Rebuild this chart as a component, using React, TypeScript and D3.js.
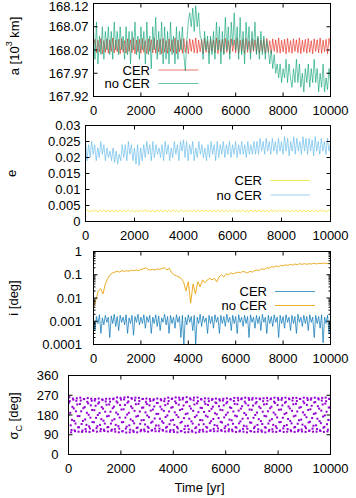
import React from "react";
import * as d3 from "d3";

// ---------- data ----------
const X_TICKS = [0, 2000, 4000, 6000, 8000, 10000];
const A_TICKS = [167.92, 167.97, 168.02, 168.07, 168.12];
const E_TICKS = [0, 0.005, 0.01, 0.015, 0.02, 0.025, 0.03];
const I_TICKS = [0.0001, 0.001, 0.01, 0.1, 1];
const S_TICKS = [0, 90, 180, 270, 360];

// semi-major axis [10^3 km], CER
const A_CER = [
  168.030,168.043,168.014,168.041,168.016,168.045,168.012,168.040,168.015,168.044,168.013,168.042,168.017,168.046,168.014,168.041,
  168.016,168.043,168.012,168.045,168.015,168.040,168.013,168.044,168.017,168.042,168.014,168.046,168.012,168.041,168.016,168.043,
  168.013,168.045,168.015,168.040,168.012,168.044,168.017,168.042,168.014,168.046,168.013,168.041,168.016,168.043,168.012,168.045,
  168.015,168.040,168.013,168.044,168.017,168.042,168.014,168.046,168.012,168.041,168.016,168.043,168.013,168.045,168.015,168.040,
  168.012,168.044,168.017,168.042,168.014,168.046,168.013,168.041,168.016,168.043,168.012,168.045,168.015,168.040,168.013,168.044,
  168.017,168.042,168.014,168.046,168.012,168.041,168.016,168.043,168.013,168.045,168.015,168.040,168.012,168.044,168.017,168.042,
  168.014,168.046,168.013,168.041,168.016,168.043,168.012,168.045,168.015,168.040,168.013,168.044,168.017,168.042,168.014,168.046,
  168.012,168.041,168.016,168.043,168.013,168.045,168.015,168.040,168.012,168.044,168.017,168.042,168.014,168.046,168.013,168.041,
  168.016,168.043,168.012,168.045,168.015,168.040,168.013,168.044,168.017,168.042,168.014,168.046,168.012,168.041,168.016,168.043,
  168.013,168.045,168.015,168.040,168.012,168.044,168.017,168.042,168.014,168.046,168.013,168.041,168.016,168.043,168.012,168.045,
  168.028,
];

// semi-major axis, no CER
const A_NOCER = [
  168.06,168.00,168.08,167.99,168.05,168.01,168.07,168.00,168.06,
  168.02,168.07,168.01,168.06,168.00,168.08,168.02,168.06,
  168.01,168.07,168.02,168.05,168.00,168.07,168.01,168.06,167.99,168.06,168.02,168.08,168.01,168.05,168.00,168.07,
  168.02,168.06,167.99,168.08,168.01,168.05,167.98,168.07,168.02,168.09,168.00,168.06,168.01,168.08,167.99,168.07,
  168.00,168.06,167.99,168.08,168.01,168.05,167.99,168.07,168.00,168.06,168.02,168.07,168.01,167.975,168.04,168.08,
  168.10,168.07,168.11,168.06,168.115,168.07,168.10,168.05,
  168.04,168.00,168.06,168.02,168.05,167.99,168.05,168.01,
  168.06,168.00,168.08,168.02,168.07,167.99,168.06,168.01,168.09,168.02,168.07,168.00,168.08,168.03,168.10,168.02,
  168.07,168.00,168.09,168.01,168.06,167.99,168.08,168.02,168.07,168.00,168.06,168.02,168.08,168.01,168.05,168.00,
  168.06,168.01,168.05,168.00,168.04,168.02,
  167.99,168.02,167.98,168.01,167.97,167.99,167.96,167.99,167.95,167.98,
  167.96,168.00,167.95,167.99,167.96,167.94,167.98,167.95,168.00,167.95,167.99,167.94,167.97,167.93,167.98,167.95,
  167.99,167.94,167.98,167.95,168.00,167.95,167.98,167.93,167.97,167.94,167.99,167.93,167.96,167.935,167.98,167.95,
];

// eccentricity, CER
const E_CER = [
  0.0033,0.0036,0.0030,0.0035,0.0031,0.0036,0.0030,0.0035,0.0031,0.0037,0.0030,0.0035,
  0.0031,0.0036,0.0029,0.0035,0.0031,0.0036,0.0030,0.0035,0.0031,0.0036,0.0030,0.0036,
  0.0030,0.0035,0.0031,0.0036,0.0030,0.0037,0.0031,0.0035,0.0030,0.0036,0.0029,0.0035,
  0.0031,0.0036,0.0030,0.0035,0.0031,0.0036,0.0030,0.0037,0.0031,0.0035,0.0030,0.0036,
  0.0030,0.0035,0.0031,0.0036,0.0029,0.0035,0.0031,0.0036,0.0030,0.0035,0.0031,0.0036,
  0.0031,0.0036,0.0030,0.0035,0.0031,0.0037,0.0030,0.0035,0.0031,0.0036,0.0030,0.0035,
  0.0030,0.0036,0.0031,0.0035,0.0030,0.0036,0.0031,0.0035,0.0029,0.0036,0.0031,0.0035,
  0.0031,0.0035,0.0030,0.0036,0.0031,0.0035,0.0030,0.0037,0.0031,0.0035,0.0030,0.0036,
  0.0030,0.0036,0.0031,0.0035,0.0030,0.0036,0.0031,0.0035,0.0030,0.0036,0.0031,0.0035,
  0.0031,0.0035,0.0030,0.0036,0.0031,0.0035,0.0030,0.0036,0.0031,0.0035,0.0030,0.0036,
  0.0033,
];

// eccentricity, no CER
const E_NOCER = [
  0.025,0.019,0.024,0.020,0.025,0.021,0.024,0.019,0.023,0.020,0.025,0.021,0.024,0.019,0.023,0.020,0.022,
  0.019,0.023,0.0185,0.022,0.018,0.021,0.019,0.024,0.020,0.024,0.019,0.025,0.021,0.024,0.019,0.023,
  0.018,0.024,0.0175,0.023,0.019,0.024,0.020,0.025,0.021,0.024,0.019,0.025,0.020,0.024,0.021,0.023,
  0.020,0.024,0.019,0.025,0.021,0.024,0.019,0.023,0.020,0.025,0.021,0.024,0.019,0.025,0.022,0.0255,
  0.020,0.025,0.019,0.024,0.021,0.025,0.019,0.023,0.020,0.025,0.021,0.024,0.020,0.023,0.019,0.024,
  0.020,0.025,0.021,0.024,0.019,0.025,0.020,0.024,0.021,0.025,0.020,0.024,0.021,0.025,0.020,0.024,
  0.021,0.025,0.020,0.024,0.021,0.025,0.021,0.024,0.020,0.025,0.021,0.024,0.021,0.025,0.021,0.025,
  0.021,0.026,0.022,0.025,0.021,0.026,0.022,0.025,0.021,0.026,0.022,0.025,0.021,0.026,0.022,0.025,
  0.021,0.0265,0.022,0.026,0.0205,0.025,0.022,0.0265,0.021,0.026,0.022,0.025,0.021,0.0265,0.022,0.026,
  0.021,0.026,0.022,0.0255,0.0205,0.0265,0.022,0.025,0.021,0.026,0.022,0.025,0.021,0.026,0.022,0.0245,
];

// inclination [deg], CER
const I_CER = [
  0.0012,0.0004,0.0016,0.0008,0.0019,0.0003,0.0014,0.0007,0.0018,0.0009,0.0015,0.0002,0.0017,0.0008,0.002,0.0006,
  0.0016,0.0004,0.0018,0.0009,0.0015,0.0007,0.0019,0.0003,0.0014,0.0008,0.0018,0.00025,0.0016,0.0009,0.002,0.0007,
  0.0015,0.0008,0.0019,0.0005,0.0016,0.0009,0.0018,0.0003,0.0015,0.0008,0.0019,0.0006,0.0017,0.0004,0.0014,0.0009,
  0.002,0.0007,0.0016,0.0003,0.0018,0.0008,0.0015,0.0005,0.0019,0.0009,0.0016,0.0002,0.0018,0.0001,0.0015,0.0007,
  0.0019,0.0009,0.0016,0.0004,0.0018,0.0001,0.0015,0.0008,0.002,0.0006,0.0017,0.0009,0.0014,0.0003,0.0018,0.0008,
  0.0016,0.0005,0.0019,0.0009,0.0015,0.0003,0.0018,0.0008,0.0016,0.0006,0.002,0.0009,0.0015,0.0004,0.0018,0.0008,
  0.0016,0.0003,0.0019,0.0009,0.0015,0.0006,0.0018,0.0008,0.0016,0.0002,0.0019,0.0009,0.0015,0.0005,0.0018,0.0008,
  0.0016,0.0004,0.002,0.0009,0.0015,0.0003,0.0018,0.0008,0.0016,0.0006,0.0019,0.0009,0.0015,0.0002,0.0018,0.0008,
  0.0016,0.0005,0.0019,0.0009,0.0015,0.0004,0.0018,0.0008,0.0016,0.0003,0.002,0.0009,0.0015,0.0006,0.0018,0.0008,
  0.0016,0.0004,0.0019,0.0009,0.0015,0.0002,0.0018,0.0008,0.0016,0.0005,0.0019,0.00012,0.0015,0.0008,0.0018,0.0003,
  0.0013,
];

// inclination [deg], no CER
const I_NOCER = [
  0.004,0.008,0.02,0.025,0.015,0.04,0.07,0.1,0.12,0.13,
  0.14,0.13,0.15,0.14,0.15,0.14,0.16,0.15,0.16,0.15,
  0.17,0.18,0.2,0.17,0.16,0.17,0.16,0.18,0.17,0.19,
  0.2,0.16,0.19,0.12,0.1,0.09,0.08,0.07,0.05,0.02,
  0.05,0.006,0.04,0.015,0.05,0.03,0.06,0.045,0.06,0.07,
  0.06,0.07,0.05,0.08,0.1,0.08,0.11,0.1,0.12,0.11,
  0.12,0.13,0.12,0.14,0.13,0.12,0.14,0.13,0.15,0.16,
  0.15,0.18,0.17,0.2,0.19,0.22,0.21,0.24,0.22,0.25,
  0.24,0.27,0.25,0.28,0.26,0.29,0.27,0.3,0.28,0.3,
  0.28,0.3,0.29,0.31,0.29,0.31,0.3,0.32,0.3,0.31,
  0.3,
];

// resonant angle sigma_C [deg], evenly sampled over 0-10000 yr
const SIGMA = [
  182,236,261,243,190,133,101,112,158,217,255,250,210,153,110,106,141,197,245,256,228,175,124,104,124,
  175,230,259,246,197,139,103,109,153,211,252,253,216,160,116,105,135,190,240,257,233,181,128,103,119,
  168,224,254,245,203,148,110,108,147,202,246,253,222,167,120,104,129,180,232,255,238,189,135,106,116,
  161,216,251,249,209,154,113,107,141,195,242,254,227,174,124,105,125,176,228,254,241,195,141,108,113,
  155,211,252,255,218,161,115,104,135,191,242,260,236,183,129,101,118,168,225,258,250,205,147,106,106,
  148,206,251,260,226,168,118,100,127,182,236,261,242,190,133,101,113,160,219,257,254,211,153,109,103,
  142,199,247,259,229,173,121,101,123,176,231,258,244,196,140,106,112,156,213,253,253,214,157,114,106,
  137,192,240,255,230,178,127,104,121,170,224,253,244,200,145,109,111,150,205,247,252,219,164,118,106,
  132,185,235,255,235,185,132,106,118,163,218,252,247,206,151,112,109,144,199,243,254,225,171,122,105,
  126,178,232,259,244,196,138,104,111,155,213,253,255,216,158,112,103,135,192,242,260,234,180,126,101,
  119,170,227,259,249,203,145,106,107,149,207,251,258,223,166,116,101,129,184,238,261,240,187,131,102,
  115,163,220,256,251,209,151,109,104,141,199,247,259,228,171,120,100,124,178,233,260,243,193,136,103,
  112,157,213,252,251,212,156,113,105,138,194,241,256,230,177,126,104,122,172,226,255,243,198,143,108,
  110,152,208,249,253,218,162,117,106,134,188,237,255,234,183,131,106,119,166,220,252,246,204,149,111,
  108,146,202,246,254,224,169,120,105,129,181,233,256,240,191,136,106,115,159,215,252,251,212,156,113,
  106,140,196,244,258,231,177,125,103,122,174,229,258,247,200,142,105,109,151,209,252,256,220,163,117,
  104,131,189,241,259,233,181,128,101,117,165,224,257,249,205,146,107,106,145,204,250,257,223,167,120,
  103,127,180,233,256,239,191,135,104,115,161,218,255,252,211,152,110,104,139,195,243,256,228,176,124,
  101,122,174,230,258,245,197,141,106,112,154,211,252,255,218,161,115,104,135,191,241,259,235,182,129,
  103,120,169,225,257,249,204,147,108,109,148,205,249,257,224,167,119,103,130,184,236,259,240,189,134,
  104,116,162,219,255,252,210,153,111,106,142,199,246,258,229,174,123,103,125,177,231,258,244,196,140,
  106,112,156,213,253,254,216,159,114,105,136,192,242,259,234,181,128,103,120,170,226,257,248,203,146,
  108,109,149,206,250,256,222,166,118,104,131,185,237,259,239,188,133,104,116,163,220,256,251,209,152,
  110,107,143,200,246,258,228,173,122,103,126,178,232,259,243,195,138,105,113,157,214,253,254,215,158,
];

// ---------- style ----------
const FONT = "'Liberation Sans', Arial, Helvetica, sans-serif";
const FS = 13;
const RED = "#e51e10";
const TEAL = "#009e73";
const SKY = "#56b4e9";
const YELLOW = "#f0e442";
const BLUE = "#0072b2";
const ORANGE = "#e69f00";
const PURPLE = "#9400d3";

type Box = { l: number; r: number; t: number; b: number };
type Line = { values: number[]; color: string; opacity: number; width: number; label: string };

function pts(values: number[]): [number, number][] {
  const n = values.length;
  const dt = 10000 / (n - 1);
  return values.map((v, i) => [i * dt, v] as [number, number]);
}

function Frame(props: {
  id: string;
  box: Box;
  y: any;
  yTicks: number[];
  yFmt: (v: number) => string;
  yLabelRight: number;
  minor?: number[];
  lines?: Line[];
  legend?: { right: number; ys: number[]; x0: number; x1: number };
  children?: React.ReactNode;
}) {
  const { id, box, y, yTicks, yFmt, yLabelRight, minor, lines, legend, children } = props;
  const x = d3.scaleLinear().domain([0, 10000]).range([box.l, box.r]);
  const lineGen = d3
    .line<[number, number]>()
    .x((d) => x(d[0]))
    .y((d) => y(d[1]));
  const TL = 4;
  return (
    <g>
      <defs>
        <clipPath id={id}>
          <rect x={box.l} y={box.t} width={box.r - box.l} height={box.b - box.t} />
        </clipPath>
      </defs>
      <g clipPath={`url(#${id})`}>
        {lines &&
          lines.map((s, i) => (
            <path
              key={i}
              d={lineGen(pts(s.values)) || ""}
              fill="none"
              stroke={s.color}
              strokeOpacity={s.opacity}
              strokeWidth={s.width}
              strokeLinejoin="round"
            />
          ))}
        {children}
      </g>
      {X_TICKS.map((t) => (
        <g key={"x" + t}>
          <line x1={x(t)} x2={x(t)} y1={box.b} y2={box.b - TL} stroke="#000" />
          <line x1={x(t)} x2={x(t)} y1={box.t} y2={box.t + TL} stroke="#000" />
          <text
            x={x(t)}
            y={box.b + 13.5}
            textAnchor="middle"
            dominantBaseline="central"
            fontFamily={FONT}
            fontSize={FS}
          >
            {t}
          </text>
        </g>
      ))}
      {yTicks.map((t) => (
        <g key={"y" + t}>
          <line x1={box.l} x2={box.l + TL} y1={y(t)} y2={y(t)} stroke="#000" />
          <line x1={box.r} x2={box.r - TL} y1={y(t)} y2={y(t)} stroke="#000" />
          <text
            x={yLabelRight}
            y={Math.max(y(t), 6.5)}
            textAnchor="end"
            dominantBaseline="central"
            fontFamily={FONT}
            fontSize={FS}
          >
            {yFmt(t)}
          </text>
        </g>
      ))}
      {minor &&
        minor.map((t, i) => (
          <g key={"m" + i}>
            <line x1={box.l} x2={box.l + 2} y1={y(t)} y2={y(t)} stroke="#000" />
            <line x1={box.r} x2={box.r - 2} y1={y(t)} y2={y(t)} stroke="#000" />
          </g>
        ))}
      {legend &&
        lines &&
        lines.map((s, i) => (
          <g key={"lg" + i}>
            <text
              x={legend.right}
              y={legend.ys[i]}
              textAnchor="end"
              dominantBaseline="central"
              fontFamily={FONT}
              fontSize={FS}
            >
              {s.label}
            </text>
            <line
              x1={legend.x0}
              x2={legend.x1}
              y1={legend.ys[i]}
              y2={legend.ys[i]}
              stroke={s.color}
              strokeOpacity={s.opacity}
              strokeWidth={s.width}
            />
          </g>
        ))}
      <rect
        x={box.l}
        y={box.t}
        width={box.r - box.l}
        height={box.b - box.t}
        fill="none"
        stroke="#000"
        strokeWidth={1}
      />
    </g>
  );
}

function YLabel(props: { x: number; y: number; children: React.ReactNode }) {
  return (
    <text
      transform={`translate(${props.x},${props.y}) rotate(-90)`}
      textAnchor="middle"
      dominantBaseline="central"
      fontFamily={FONT}
      fontSize={FS}
    >
      {props.children}
    </text>
  );
}

export default function App() {
  const p1: Box = { l: 93.5, r: 330.5, t: 3.5, b: 96.5 };
  const p2: Box = { l: 85.5, r: 330.5, t: 125.5, b: 221.5 };
  const p3: Box = { l: 93.5, r: 330.5, t: 251.5, b: 344.5 };
  const p4: Box = { l: 68.5, r: 330.5, t: 375.5, b: 454.5 };

  const yA = d3.scaleLinear().domain([167.92, 168.12]).range([p1.b, p1.t]);
  const yE = d3.scaleLinear().domain([0, 0.03]).range([p2.b, p2.t]);
  const yI = d3.scaleLog().domain([0.0001, 1]).range([p3.b, p3.t]);
  const yS = d3.scaleLinear().domain([0, 360]).range([p4.b, p4.t]);
  const x4 = d3.scaleLinear().domain([0, 10000]).range([p4.l, p4.r]);

  const minorI: number[] = [];
  [0.0001, 0.001, 0.01, 0.1].forEach((d) => {
    for (let m = 2; m <= 9; m++) minorI.push(d * m);
  });

  const sigmaPts = pts(SIGMA);

  return (
    <svg width={356} height={498} style={{ display: "block", position: "absolute", left: 0, top: 0 }}>
      <rect x={0} y={0} width={356} height={498} fill="#fff" />
      <Frame
        id="c1"
        box={p1}
        y={yA}
        yTicks={A_TICKS}
        yFmt={(v) => v.toFixed(2)}
        yLabelRight={88.5}
        lines={[
          { values: A_CER, color: RED, opacity: 0.6, width: 1, label: "CER" },
          { values: A_NOCER, color: TEAL, opacity: 0.6, width: 1, label: "no CER" },
        ]}
        legend={{ right: 150, ys: [70, 83.5], x0: 158.5, x1: 198.5 }}
      />
      <Frame
        id="c2"
        box={p2}
        y={yE}
        yTicks={E_TICKS}
        yFmt={(v) => String(v)}
        yLabelRight={80.5}
        lines={[
          { values: E_CER, color: YELLOW, opacity: 0.9, width: 1, label: "CER" },
          { values: E_NOCER, color: SKY, opacity: 0.6, width: 1, label: "no CER" },
        ]}
        legend={{ right: 262, ys: [180.5, 195], x0: 270.5, x1: 310 }}
      />
      <Frame
        id="c3"
        box={p3}
        y={yI}
        yTicks={I_TICKS}
        yFmt={(v) => String(v)}
        yLabelRight={82}
        minor={minorI}
        lines={[
          { values: I_CER, color: BLUE, opacity: 0.7, width: 1, label: "CER" },
          { values: I_NOCER, color: ORANGE, opacity: 0.85, width: 1, label: "no CER" },
        ]}
        legend={{ right: 267, ys: [291.5, 305.5], x0: 275, x1: 315 }}
      />
      <Frame id="c4" box={p4} y={yS} yTicks={S_TICKS} yFmt={(v) => String(v)} yLabelRight={58.5}>
        {sigmaPts.map((d, i) => (
          <rect key={i} x={x4(d[0]) - 1} y={yS(d[1]) - 1} width={2} height={2} fill={PURPLE} />
        ))}
      </Frame>

      <YLabel x={14} y={46}>
        a [10<tspan baselineShift="super" fontSize={9}>3</tspan> km]
      </YLabel>
      <YLabel x={11.5} y={173.5}>e</YLabel>
      <YLabel x={13} y={298}>i [deg]</YLabel>
      <YLabel x={13.5} y={416}>
        σ<tspan baselineShift="sub" fontSize={9}>C</tspan> [deg]
      </YLabel>
      <text
        x={(p4.l + p4.r) / 2}
        y={487.5}
        textAnchor="middle"
        dominantBaseline="central"
        fontFamily={FONT}
        fontSize={FS}
      >
        Time [yr]
      </text>
    </svg>
  );
}
